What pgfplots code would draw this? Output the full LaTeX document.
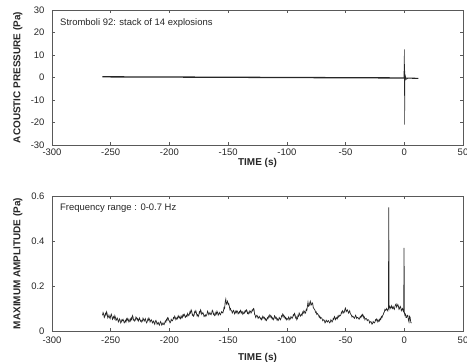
\documentclass[border=0pt]{standalone}
\usepackage{pgfplots}
\pgfplotsset{compat=1.18}
\usepackage{fontspec}
\setmainfont{Liberation Sans}
\definecolor{ink}{gray}{0.15}
\definecolor{frame}{gray}{0.35}
\pgfplotsset{
  common/.style={
    scale only axis, width=411bp, height=135bp,
    anchor=south west,
    xmin=-300, xmax=50,
    xtick={-300,-250,...,50},
    tick align=inside, major tick length=3bp,
    axis line style={frame, line width=0.5pt},
    tick style={frame, line width=0.5pt},
    every tick label/.append style={font=\fontsize{9.5}{11}\selectfont, text=ink},
    /pgf/number format/assume math mode=true,
    label style={font=\fontsize{10}{12}\selectfont\bfseries, text=ink},
    ylabel style={at={(axis description cs:-0.083,0.5)}, anchor=center},
    yticklabel style={xshift=-4bp},
  }
}
\begin{document}
\begin{tikzpicture}
\begin{axis}[common, at={(52bp,217bp)},
  ymin=-30, ymax=30, ytick={-30,-20,...,30},
  xlabel={TIME (s)}, ylabel={ACOUSTIC PRESSURE (Pa)},
  xlabel style={at={(axis description cs:0.5,-0.135)}, anchor=center},
]
\node[anchor=west, font=\fontsize{9.5}{11}\selectfont, text=ink] at (axis cs:-296,24) {Stromboli 92: stack of 14 explosions};
\addplot[ink, line width=1.3pt] coordinates {
(-257,0.3) (-200,0.2) (-150,0.1) (-100,0.0) (-50,-0.1) (-1,-0.2) (-0.3,-0.2)
};
\addplot[ink, line width=1.1pt] coordinates {
(1,-0.3) (6,-0.3) (12,-0.4)
};
\addplot[ink, line width=0.6pt] coordinates {
(-0.3,-0.2) (0.1,12.5) (0.3,-21) (0.5,3) (0.7,-1.5) (1,0.5) (1.5,-0.8) (3,-0.4)
};
\end{axis}
\begin{axis}[common, at={(52bp,31bp)},
  ymin=0, ymax=0.6, ytick={0,0.2,0.4,0.6},
  yticklabel style={/pgf/number format/fixed},
  xticklabel style={yshift=-2bp},
  xlabel={TIME (s)}, ylabel={MAXIMUM AMPLITUDE (Pa)},
  xlabel style={at={(axis description cs:0.5,-0.2)}, anchor=center},
]
\node[anchor=west, font=\fontsize{9.5}{11}\selectfont, text=ink] at (axis cs:-296,0.545) {Frequency range : 0-0.7 Hz};
\addplot[ink, line width=0.7pt] coordinates {
(-257,0.07) (-256.5,0.082) (-256,0.075) (-255.5,0.06) (-255,0.065) (-254.5,0.078) (-254,0.072) (-253.5,0.085) (-253,0.075) (-252.5,0.058) (-252,0.062) (-251.5,0.07)
(-251,0.06) (-250.5,0.055) (-250,0.068) (-249.5,0.075) (-249,0.065) (-248.5,0.052) (-248,0.058) (-247.5,0.064) (-247,0.055) (-246.5,0.068) (-246,0.06) (-245.5,0.047)
(-245,0.05) (-244.5,0.058) (-244,0.052) (-243.5,0.04) (-243,0.045) (-242.5,0.054) (-242,0.048) (-241.5,0.036) (-241,0.04) (-240.5,0.05) (-240,0.046) (-239.5,0.052)
(-239,0.045) (-238.5,0.036) (-238,0.04) (-237.5,0.047) (-237,0.04) (-236.5,0.054) (-236,0.048) (-235.5,0.056) (-235,0.05) (-234.5,0.04) (-234,0.044) (-233.5,0.052)
(-233,0.045) (-232.5,0.058) (-232,0.052) (-231.5,0.068) (-231,0.062) (-230.5,0.048) (-230,0.05) (-229.5,0.044) (-229,0.05) (-228.5,0.062) (-228,0.058) (-227.5,0.05)
(-227,0.055) (-226.5,0.044) (-226,0.05) (-225.5,0.058) (-225,0.05) (-224.5,0.043) (-224,0.047) (-223.5,0.04) (-223,0.045) (-222.5,0.057) (-222,0.052) (-221.5,0.044)
(-221,0.05) (-220.5,0.055) (-220,0.043) (-219.5,0.036) (-219,0.04) (-218.5,0.052) (-218,0.048) (-217.5,0.058) (-217,0.052) (-216.5,0.04) (-216,0.045) (-215.5,0.05)
(-215,0.045) (-214.5,0.036) (-214,0.04) (-213.5,0.044) (-213,0.035) (-212.5,0.03) (-212,0.042) (-211.5,0.047) (-211,0.04) (-210.5,0.03) (-210,0.034) (-209.5,0.038)
(-209,0.03) (-208.5,0.026) (-208,0.036) (-207.5,0.042) (-207,0.035) (-206.5,0.026) (-206,0.03) (-205.5,0.036) (-205,0.03) (-204.5,0.028) (-204,0.036) (-203.5,0.044)
(-203,0.04) (-202.5,0.052) (-202,0.048) (-201.5,0.06) (-201,0.058) (-200.5,0.046) (-200,0.045) (-199.5,0.036) (-199,0.04) (-198.5,0.052) (-198,0.047) (-197.5,0.045)
(-197,0.05) (-196.5,0.06) (-196,0.056) (-195.5,0.066) (-195,0.06) (-194.5,0.05) (-194,0.054) (-193.5,0.06) (-193,0.055) (-192.5,0.068) (-192,0.062) (-191.5,0.058)
(-191,0.065) (-190.5,0.054) (-190,0.058) (-189.5,0.066) (-189,0.06) (-188.5,0.072) (-188,0.067) (-187.5,0.075) (-187,0.07) (-186.5,0.06) (-186,0.063) (-185.5,0.07)
(-185,0.065) (-184.5,0.078) (-184,0.072) (-183.5,0.068) (-183,0.075) (-182.5,0.086) (-182,0.08) (-181.5,0.094) (-181,0.088) (-180.5,0.07) (-180,0.074) (-179.5,0.066)
(-179,0.07) (-178.5,0.086) (-178,0.082) (-177.5,0.09) (-177,0.08) (-176.5,0.068) (-176,0.072) (-175.5,0.064) (-175,0.07) (-174.5,0.085) (-174,0.08) (-173.5,0.094)
(-173,0.088) (-172.5,0.074) (-172,0.078) (-171.5,0.082) (-171,0.075) (-170.5,0.064) (-170,0.068) (-169.5,0.072) (-169,0.065) (-168.5,0.07) (-168,0.075) (-167.5,0.088)
(-167,0.082) (-166.5,0.072) (-166,0.076) (-165.5,0.082) (-165,0.075) (-164.5,0.072) (-164,0.08) (-163.5,0.092) (-163,0.088) (-162.5,0.074) (-162,0.078) (-161.5,0.068)
(-161,0.07) (-160.5,0.082) (-160,0.076) (-159.5,0.088) (-159,0.082) (-158.5,0.07) (-158,0.075) (-157.5,0.082) (-157,0.075) (-156.5,0.072) (-156,0.08) (-155.5,0.086)
(-155,0.082) (-154.5,0.08) (-154,0.09) (-153.5,0.104) (-153,0.1) (-152.5,0.13) (-152,0.142) (-151.5,0.12) (-151,0.125) (-150.5,0.132) (-150,0.118) (-149.5,0.122)
(-149,0.11) (-148.5,0.095) (-148,0.1) (-147.5,0.09) (-147,0.09) (-146.5,0.08) (-146,0.085) (-145.5,0.092) (-145,0.088) (-144.5,0.076) (-144,0.08) (-143.5,0.088)
(-143,0.082) (-142.5,0.09) (-142,0.086) (-141.5,0.076) (-141,0.08) (-140.5,0.086) (-140,0.08) (-139.5,0.092) (-139,0.088) (-138.5,0.08) (-138,0.085) (-137.5,0.074)
(-137,0.078) (-136.5,0.084) (-136,0.08) (-135.5,0.09) (-135,0.086) (-134.5,0.094) (-134,0.09) (-133.5,0.078) (-133,0.083) (-132.5,0.076) (-132,0.08) (-131.5,0.09)
(-131,0.087) (-130.5,0.08) (-130,0.085) (-129.5,0.094) (-129,0.09) (-128.5,0.1) (-128,0.098) (-127.5,0.075) (-127,0.07) (-126.5,0.06) (-126,0.066) (-125.5,0.07)
(-125,0.065) (-124.5,0.056) (-124,0.06) (-123.5,0.065) (-123,0.06) (-122.5,0.054) (-122,0.058) (-121.5,0.05) (-121,0.055) (-120.5,0.066) (-120,0.062) (-119.5,0.056)
(-119,0.06) (-118.5,0.05) (-118,0.054) (-117.5,0.046) (-117,0.05) (-116.5,0.06) (-116,0.056) (-115.5,0.066) (-115,0.062) (-114.5,0.072) (-114,0.068) (-113.5,0.06)
(-113,0.065) (-112.5,0.054) (-112,0.058) (-111.5,0.05) (-111,0.055) (-110.5,0.068) (-110,0.064) (-109.5,0.056) (-109,0.06) (-108.5,0.05) (-108,0.054) (-107.5,0.046)
(-107,0.05) (-106.5,0.06) (-106,0.056) (-105.5,0.05) (-105,0.055) (-104.5,0.068) (-104,0.064) (-103.5,0.076) (-103,0.072) (-102.5,0.062) (-102,0.066) (-101.5,0.056)
(-101,0.06) (-100.5,0.05) (-100,0.056) (-99.5,0.054) (-99,0.05) (-98.5,0.062) (-98,0.058) (-97.5,0.05) (-97,0.055) (-96.5,0.064) (-96,0.06) (-95.5,0.056)
(-95,0.062) (-94.5,0.072) (-94,0.068) (-93.5,0.078) (-93,0.072) (-92.5,0.058) (-92,0.062) (-91.5,0.05) (-91,0.055) (-90.5,0.07) (-90,0.066) (-89.5,0.08)
(-89,0.075) (-88.5,0.066) (-88,0.07) (-87.5,0.075) (-87,0.07) (-86.5,0.084) (-86,0.08) (-85.5,0.09) (-85,0.086) (-84.5,0.078) (-84,0.082) (-83.5,0.096)
(-83,0.092) (-82.5,0.11) (-82,0.128) (-81.5,0.11) (-81,0.112) (-80.5,0.125) (-80,0.132) (-79.5,0.115) (-79,0.116) (-78.5,0.126) (-78,0.122) (-77.5,0.104)
(-77,0.1) (-76.5,0.096) (-76,0.092) (-75.5,0.082) (-75,0.085) (-74.5,0.074) (-74,0.078) (-73.5,0.074) (-73,0.07) (-72.5,0.062) (-72,0.066) (-71.5,0.056)
(-71,0.06) (-70.5,0.058) (-70,0.055) (-69.5,0.046) (-69,0.05) (-68.5,0.05) (-68,0.045) (-67.5,0.036) (-67,0.04) (-66.5,0.048) (-66,0.044) (-65.5,0.04)
(-65,0.045) (-64.5,0.046) (-64,0.04) (-63.5,0.036) (-63,0.04) (-62.5,0.05) (-62,0.046) (-61.5,0.04) (-61,0.045) (-60.5,0.056) (-60,0.052) (-59.5,0.064)
(-59,0.06) (-58.5,0.05) (-58,0.055) (-57.5,0.06) (-57,0.055) (-56.5,0.066) (-56,0.062) (-55.5,0.07) (-55,0.066) (-54.5,0.068) (-54,0.072) (-53.5,0.084)
(-53,0.08) (-52.5,0.09) (-52,0.085) (-51.5,0.08) (-51,0.086) (-50.5,0.098) (-50,0.102) (-49.5,0.086) (-49,0.09) (-48.5,0.094) (-48,0.088) (-47.5,0.08)
(-47,0.085) (-46.5,0.09) (-46,0.078) (-45.5,0.074) (-45,0.07) (-44.5,0.062) (-44,0.066) (-43.5,0.064) (-43,0.06) (-42.5,0.056) (-42,0.062) (-41.5,0.07)
(-41,0.065) (-40.5,0.056) (-40,0.06) (-39.5,0.06) (-39,0.055) (-38.5,0.052) (-38,0.058) (-37.5,0.064) (-37,0.06) (-36.5,0.07) (-36,0.065) (-35.5,0.074)
(-35,0.07) (-34.5,0.058) (-34,0.062) (-33.5,0.05) (-33,0.055) (-32.5,0.056) (-32,0.052) (-31.5,0.046) (-31,0.05) (-30.5,0.05) (-30,0.046) (-29.5,0.036)
(-29,0.04) (-28.5,0.042) (-28,0.038) (-27.5,0.03) (-27,0.033) (-26.5,0.042) (-26,0.038) (-25.5,0.036) (-25,0.04) (-24.5,0.05) (-24,0.046) (-23.5,0.054)
(-23,0.05) (-22.5,0.04) (-22,0.044) (-21.5,0.05) (-21,0.045) (-20.5,0.056) (-20,0.052) (-19.5,0.064) (-19,0.06) (-18.5,0.068) (-18,0.072) (-17.5,0.08)
(-17,0.085) (-16.5,0.096) (-16,0.092) (-15.5,0.096) (-15,0.1) (-14.5,0.09) (-14,0.095) (-13.5,0.1) (-13.2,0.55) (-12.9,0.1) (-12.5,0.11) (-12,0.105)
(-11.5,0.1) (-11,0.112) (-10.5,0.106) (-10,0.1) (-9.5,0.108) (-9,0.1) (-8.5,0.096) (-8,0.108) (-7.5,0.116) (-7,0.12) (-6.5,0.106) (-6,0.112)
(-5.5,0.118) (-5,0.11) (-4.5,0.096) (-4,0.1) (-3.5,0.11) (-3,0.105) (-2.5,0.09) (-2,0.095) (-1.5,0.1) (-1,0.09) (-0.5,0.085) (-0.2,0.37)
(0.1,0.08) (0.5,0.07) (1,0.075) (1.5,0.06) (2,0.06) (2.5,0.07) (3,0.07) (3.5,0.05) (4,0.04) (4.5,0.065) (5,0.06) (5.5,0.04) (6,0.035)
};
\end{axis}
\pgfresetboundingbox
\path[use as bounding box] (0,0) rectangle (467bp,362bp);
\end{tikzpicture}
\end{document}
